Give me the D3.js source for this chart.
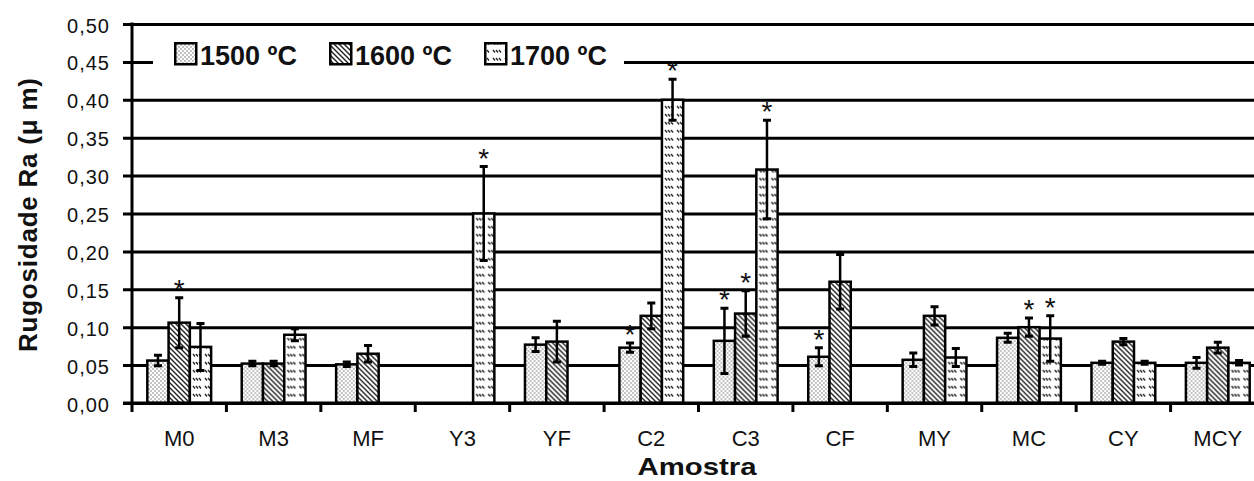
<html>
  <head>
    <style>
      body { margin: 0; background: #fff; }
      text { font-family: "Liberation Sans", Arial, sans-serif; fill: #111; }
    </style>
  </head>
  <body>
    <script src="https://d3js.org/d3.v7.min.js"></script>
    <script>
    var width = 1254, height = 481;

    // data
    var categories = ["M0", "M3", "MF", "Y3", "YF", "C2", "C3", "CF", "MY", "MC", "CY", "MCY"];
    var series = ["1500 ºC", "1600 ºC", "1700 ºC"];
    var ra1500 = [0.056, 0.052, 0.051, null, 0.077, 0.073, 0.082, 0.061, 0.057, 0.086, 0.053, 0.053];
    var err1500 = [0.007, 0.003, 0.003, null, 0.009, 0.006, 0.043, 0.012, 0.009, 0.006, 0.002, 0.007];
    var ra1600 = [0.106, 0.052, 0.065, null, 0.081, 0.115, 0.118, 0.160, 0.115, 0.100, 0.081, 0.073];
    var err1600 = [0.033, 0.003, 0.011, null, 0.027, 0.017, 0.030, 0.036, 0.012, 0.012, 0.004, 0.007];
    var ra1700 = [0.074, 0.090, null, 0.250, null, 0.400, 0.308, null, 0.060, 0.085, 0.053, 0.053];
    var err1700 = [0.031, 0.008, null, 0.062, null, 0.027, 0.065, null, 0.012, 0.030, 0.002, 0.003];
    var star1500 = [0, 0, 0, 0, 0, 1, 1, 1, 0, 0, 0, 0];
    var star1600 = [1, 0, 0, 0, 0, 0, 1, 0, 0, 1, 0, 0];
    var star1700 = [0, 0, 0, 1, 0, 1, 1, 0, 0, 1, 0, 0];
    var yTicks = [0, 0.05, 0.10, 0.15, 0.20, 0.25, 0.30, 0.35, 0.40, 0.45, 0.50];

    var values = [ra1500, ra1600, ra1700], errs = [err1500, err1600, err1700], stars = [star1500, star1600, star1700];
    var patIds = ["p1500", "p1600", "p1700"];

    var plotLeft = 132, plotRight = 1265, plotTop = 24, plotBottom = 403;

    var svg = d3.select("body")
        .append("svg")
        .attr("width", width)
        .attr("height", height);

    // fill patterns
    var defs = svg.append("defs");
    var p1 = defs.append("pattern").attr("id", "p1500").attr("patternUnits", "userSpaceOnUse")
        .attr("width", 4).attr("height", 4);
    p1.append("rect").attr("width", 4).attr("height", 4).attr("fill", "#fff");
    p1.append("circle").attr("cx", 1).attr("cy", 1).attr("r", 0.65).attr("fill", "#555");
    p1.append("circle").attr("cx", 3).attr("cy", 3).attr("r", 0.65).attr("fill", "#555");

    var p2 = defs.append("pattern").attr("id", "p1600").attr("patternUnits", "userSpaceOnUse")
        .attr("width", 5).attr("height", 5);
    p2.append("rect").attr("width", 5).attr("height", 5).attr("fill", "#fff");
    p2.append("path").attr("d", "M0,0L5,5M-1,4L1,6M4,-1L6,1")
        .attr("stroke", "#222").attr("stroke-width", 1.4);

    var p3 = defs.append("pattern").attr("id", "p1700").attr("patternUnits", "userSpaceOnUse")
        .attr("width", 12).attr("height", 8);
    p3.append("rect").attr("width", 12).attr("height", 8).attr("fill", "#fff");
    p3.append("path").attr("d", "M1,2l2,2.5M4,2l2,2.5M7,2l2,2.5")
        .attr("stroke", "#222").attr("stroke-width", 1.3);

    var y = d3.scaleLinear().domain([0, 0.5]).range([plotBottom, plotTop]);
    var x0 = d3.scaleBand().domain(categories).range([plotLeft, plotRight]).paddingInner(0).paddingOuter(0);
    var x1 = d3.scaleBand().domain(series).range([0, x0.bandwidth()]).paddingInner(0).paddingOuter(0.72);

    var locale = d3.formatLocale({decimal: ",", thousands: ".", grouping: [3], currency: ["", ""]});
    var fmt = locale.format(".2f");

    // y axis with grid lines
    var yAxis = svg.append("g")
        .attr("transform", "translate(" + plotLeft + ",0)")
        .call(d3.axisLeft(y).tickValues(yTicks).tickSizeInner(-(plotRight - plotLeft)).tickSizeOuter(0).tickFormat(fmt));
    yAxis.select(".domain").remove();
    yAxis.selectAll(".tick line").attr("x1", -9).attr("stroke", "#000").attr("stroke-width", 3);
    yAxis.selectAll(".tick text")
        .attr("x", -22).attr("dy", "0.4em")
        .style("font-size", "20px").style("letter-spacing", "1px")
        .style("font-family", "'Liberation Sans', Arial, sans-serif").attr("fill", "#222");

    // legend background hides the 0,45 line
    var legend = svg.append("g");
    legend.append("rect").attr("x", 153).attr("y", 38).attr("width", 471).attr("height", 48).attr("fill", "#fff");
    var legendX = [174, 329, 484];
    series.forEach(function(s, j) {
      legend.append("rect").attr("x", legendX[j] + 1.25).attr("y", 43.25).attr("width", 21).attr("height", 21)
          .attr("fill", "url(#" + patIds[j] + ")").attr("stroke", "#000").attr("stroke-width", 2.5);
      legend.append("text").attr("x", legendX[j] + 26).attr("y", 65)
          .style("font-size", "27px").style("font-weight", "bold").attr("fill", "#111")
          .text(s);
    });

    var rows = categories.map(function(c, i) {
      return {cat: c, vals: series.map(function(s, j) {
        return {s: s, j: j, v: values[j][i], e: errs[j][i], star: stars[j][i]};
      }).filter(function(d) { return d.v != null; })};
    });

    var groups = svg.selectAll(".grp")
        .data(rows)
        .enter().append("g")
          .attr("class", "grp")
          .attr("transform", function(d) { return "translate(" + x0(d.cat) + ",0)"; });

    var bar = groups.selectAll(".bar")
        .data(function(d) { return d.vals; })
        .enter().append("g").attr("class", "bar");

    bar.append("rect")
        .attr("x", function(d) { return x1(d.s); })
        .attr("y", function(d) { return y(d.v); })
        .attr("width", x1.bandwidth())
        .attr("height", function(d) { return y(0) - y(d.v); })
        .attr("fill", function(d) { return "url(#" + patIds[d.j] + ")"; })
        .attr("stroke", "#000").attr("stroke-width", 2.5);

    // error bars
    var cx = function(d) { return x1(d.s) + x1.bandwidth() / 2; };
    bar.append("line")
        .attr("x1", cx).attr("x2", cx)
        .attr("y1", function(d) { return y(d.v + d.e); })
        .attr("y2", function(d) { return y(d.v - d.e); })
        .attr("stroke", "#000").attr("stroke-width", 2.5);
    bar.append("path")
        .attr("d", function(d) {
          var c = cx(d), t = y(d.v + d.e), b = y(d.v - d.e);
          return "M" + (c - 4) + "," + t + "H" + (c + 4) + "M" + (c - 4) + "," + b + "H" + (c + 4);
        })
        .attr("stroke", "#000").attr("stroke-width", 3);

    // significance marks
    bar.filter(function(d) { return d.star; })
        .append("text")
        .attr("x", cx)
        .attr("y", function(d) { return y(d.v + d.e) + 1; })
        .attr("text-anchor", "middle")
        .style("font-size", "28px")
        .text("*");

    // x axis
    var xAxis = svg.append("g")
        .attr("transform", "translate(0," + plotBottom + ")")
        .call(d3.axisBottom(x0).tickSize(0).tickSizeOuter(0));
    xAxis.select(".domain").attr("d", "M" + (plotLeft - 9) + ",0H" + plotRight).attr("stroke", "#000").attr("stroke-width", 3);
    xAxis.selectAll(".tick text")
        .attr("y", 43).attr("dy", 0)
        .style("font-size", "22px").style("font-family", "'Liberation Sans', Arial, sans-serif").attr("fill", "#222");

    svg.append("g").selectAll("line")
        .data(categories.slice(1))
        .enter().append("line")
          .attr("x1", function(d) { return x0(d); })
          .attr("x2", function(d) { return x0(d); })
          .attr("y1", plotBottom).attr("y2", plotBottom + 9)
          .attr("stroke", "#000").attr("stroke-width", 3);

    // y axis line
    svg.append("line")
        .attr("x1", plotLeft).attr("x2", plotLeft).attr("y1", y(0.5) - 1.5).attr("y2", plotBottom + 9)
        .attr("stroke", "#000").attr("stroke-width", 3);

    // titles
    svg.append("text")
        .attr("x", 697).attr("y", 475)
        .attr("text-anchor", "middle")
        .attr("textLength", 119).attr("lengthAdjust", "spacingAndGlyphs")
        .style("font-size", "24px").style("font-weight", "bold")
        .text("Amostra");

    svg.append("text")
        .attr("transform", "translate(37,215) rotate(-90)")
        .attr("text-anchor", "middle")
        .attr("textLength", 274).attr("lengthAdjust", "spacing")
        .style("font-size", "26px").style("font-weight", "bold")
        .text("Rugosidade Ra (μ m)");
    </script>
  </body>
</html>
